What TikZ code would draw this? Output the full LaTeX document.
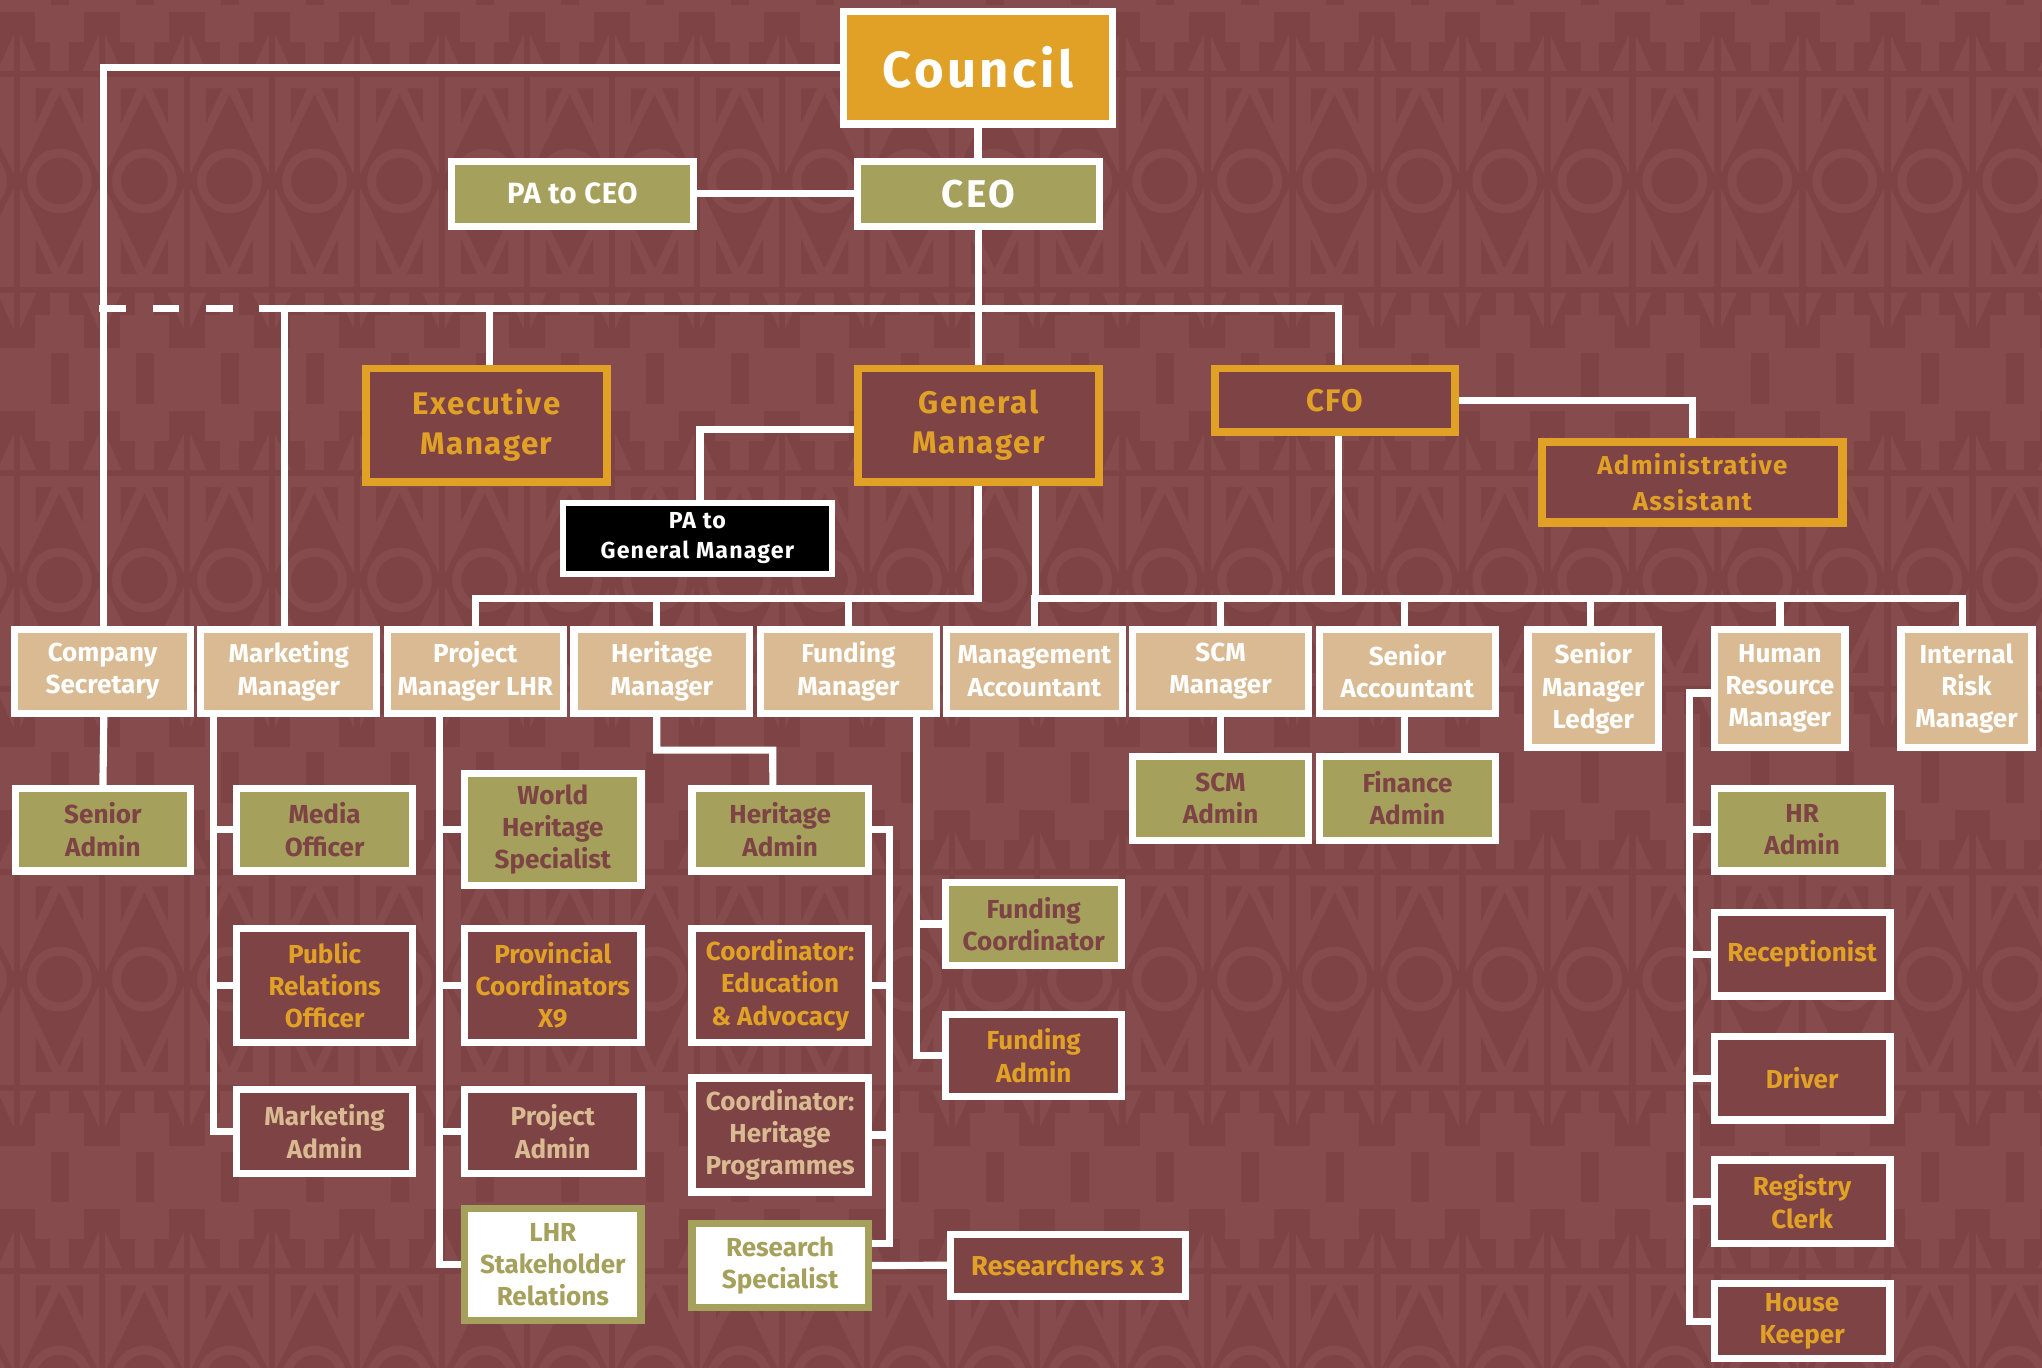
\documentclass[tikz,border=0pt]{standalone}
\usepackage{fontspec}
\setmainfont{Fira Sans}
\usetikzlibrary{calc}
\definecolor{bgL}{HTML}{864C4D}
\definecolor{bgD}{HTML}{7D4345}
\definecolor{mar}{HTML}{7D4345}
\definecolor{orng}{HTML}{E1A127}
\definecolor{olv}{HTML}{A5A05B}
\definecolor{tanc}{HTML}{D9BA92}
\pgfdeclarelayer{pat}\pgfdeclarelayer{lines}\pgfsetlayers{pat,lines,main}
\newcommand\fT{\fontsize{20}{24.8}\selectfont}
\newcommand\fTop{\fontsize{24}{30.7}\selectfont\addfontfeature{LetterSpace=5}}
\newcommand\fAdm{\fontsize{19.9}{27.4}\selectfont\addfontfeature{LetterSpace=5}}
\newcommand\fPag{\fontsize{17.8}{23}\selectfont\addfontfeature{LetterSpace=5}}
\newcommand\fCou{\fontsize{39}{40}\selectfont\addfontfeature{LetterSpace=7}}
\newcommand\fCeo{\fontsize{29.7}{32}\selectfont\addfontfeature{LetterSpace=6}}
\newcommand\fPce{\fontsize{22.5}{24}\selectfont\addfontfeature{LetterSpace=2}}
\newcommand\fRes{\fontsize{21}{24}\selectfont}
\newcommand\bx[8][5.5]{\node[#3,line width=#1pt,minimum width={(#6-#4-#1)*1pt},minimum height={(#7-#5-#1)*1pt}] (#2) at ({(#4+#6)/2},{(#5+#7)/2}) {#8};}
\newcommand\tileshapes{%
 \fill[bgL] (13.6,-130) rectangle (51.7,-107);
 \fill[bgL] (25.6,-107.5) rectangle (39.7,-84.5);
 \fill[bgL] (-15,-84.5) -- (0,-118) -- (15,-84.5) -- cycle;
 \fill[bgL] (25.6,85.7) rectangle (39.7,103.5);
 \fill[bgL] (13.6,103) rectangle (51.7,128.5);
 \fill[bgL] (-15,85.7) -- (0,119) -- (15,85.7) -- cycle;
 \fill[bgD] (-2.6,-130) rectangle (2.6,128.5);
 \fill[bgD] (32.64,-66.5) -- (65.28,0) -- (32.64,67) -- (0,0) -- cycle;
 \fill[bgL] (32.64,0) circle (24.8);
 \fill[bgD] (32.64,0) circle (17.9);
 \fill[bgD] (14.6,-71.2) -- (26.9,-71.2) -- (14.6,-44.3) -- cycle;
 \fill[bgD] (50.68,-71.2) -- (38.38,-71.2) -- (50.68,-44.3) -- cycle;
 \fill[bgD] (14.6,71.2) -- (26.9,71.2) -- (14.6,44.3) -- cycle;
 \fill[bgD] (50.68,71.2) -- (38.38,71.2) -- (50.68,44.3) -- cycle;
 \fill[bgD] (26,132.4) rectangle (40,171.4);
}
\begin{document}
\begin{tikzpicture}[x=1pt,y=-1pt,
  base/.style={rectangle,inner sep=0pt,outer sep=0pt,align=center,font=\bfseries\fT},
  tier/.style={base,fill=tanc,draw=white,text=white},
  obox/.style={base,fill=olv,draw=white,text=mar},
  gbox/.style={base,fill=olv,draw=white,text=white},
  marO/.style={base,fill=mar,draw=white,text=orng},
  marT/.style={base,fill=mar,draw=white,text=tanc},
  wbox/.style={base,fill=white,draw=olv,text=olv},
  topbox/.style={base,fill=mar,draw=orng,text=orng,font=\bfseries\fTop},
  cbox/.style={base,fill=orng,draw=white,text=white,font=\bfseries\fCou},
  blk/.style={base,fill=black,draw=white,text=white,font=\bfseries\fPag},
  conn/.style={draw=white,line width=5.5pt}]
\useasboundingbox (0,0) rectangle (1568,1050);
\begin{pgfonlayer}{pat}
\begin{scope}
\clip (-3,-3) rectangle (1571,1053);
\fill[bgL] (-3,-3) rectangle (1571,1053);
\foreach \j in {-1,...,3}{
  \begin{scope}[shift={(0,{139+306.4*\j})}]
    \fill[bgD] (-3,-130) rectangle (1571,-80);
    \fill[bgD] (-3,81) rectangle (1571,128.5);
    \foreach \i in {-1,...,24}{
      \begin{scope}[shift={({13+65.28*\i},0)}]
        \tileshapes
      \end{scope}
    }
  \end{scope}
}
\end{scope}
\end{pgfonlayer}
% top
\bx{council}{cbox}{645}{6}{857}{98}{Council}
\bx{pceo}{gbox,font=\bfseries\fPce}{344}{121}{535}{176.5}{PA to CEO}
\bx{ceo}{gbox,font=\bfseries\fCeo}{656}{121}{847}{176.5}{CEO}
\bx[6]{exec}{topbox}{278}{280}{469}{373}{Executive\\Manager}
\bx[6]{gm}{topbox}{656}{280}{847}{373}{General\\Manager}
\bx[6]{cfo}{topbox}{930}{280}{1120}{335}{CFO}
\bx[6.5]{admin}{topbox,font=\bfseries\fAdm}{1181}{336}{1418}{404.5}{Administrative\\Assistant}
\bx[4.5]{pagm}{blk}{430}{384}{641}{443}{PA to\\General Manager}
% tier
\bx{csec}{tier}{8.5}{480.4}{149}{550.5}{Company\\Secretary}
\bx{mkt}{tier}{151.5}{480.4}{292}{550.5}{Marketing\\Manager}
\bx{proj}{tier}{294.5}{480.4}{435.5}{550.5}{Project\\Manager LHR}
\bx{her}{tier}{438}{480.4}{578.5}{550.5}{Heritage\\Manager}
\bx{fund}{tier}{581}{480.4}{722}{550.5}{Funding\\Manager}
\bx{mgmt}{tier}{724}{480.4}{864.5}{550.5}{Management\\Accountant}
\bx{scm}{tier}{867}{480.4}{1007.5}{550.5}{SCM\\Manager}
\bx{sacc}{tier}{1010.5}{480.4}{1151}{550.5}{Senior\\Accountant}
\bx{ledg}{tier}{1170.5}{480.4}{1276.5}{577}{Senior\\Manager\\Ledger}
\bx{hr}{tier}{1314}{480.4}{1419.5}{577}{Human\\Resource\\Manager}
\bx{risk}{tier}{1457}{480.4}{1563}{577}{Internal\\Risk\\Manager}
% second level
\bx{sadm}{obox}{9}{602.6}{149}{671.5}{Senior\\Admin}
\bx{media}{obox}{179}{602.6}{319.5}{671.5}{Media\\Officer}
\bx{pro}{marO}{179}{710}{319.5}{803}{Public\\Relations\\Officer}
\bx{madm}{marT}{179}{834}{319.5}{904}{Marketing\\Admin}
\bx{whs}{obox}{354}{591}{495}{683}{World\\Heritage\\Specialist}
\bx{prov}{marO}{354}{710}{495}{803}{Provincial\\Coordinators\\X9}
\bx{padm}{marT}{354}{834}{495}{904}{Project\\Admin}
\bx{lhr}{wbox}{354}{925}{495}{1017}{LHR\\Stakeholder\\Relations}
\bx{hadm}{obox}{528.6}{602.6}{669.5}{671.5}{Heritage\\Admin}
\bx{cea}{marO}{528.6}{710}{669.5}{803}{Coordinator:\\Education\\\& Advocacy}
\bx{chp}{marT}{528.6}{825}{669.5}{918}{Coordinator:\\Heritage\\Programmes}
\bx{rs}{wbox}{528.6}{937}{669.5}{1006.6}{Research\\Specialist}
\bx{rx}{marO,font=\bfseries\fRes}{727}{945}{913}{998}{Researchers x 3}
\bx{fco}{obox}{723.5}{675}{864}{744}{Funding\\Coordinator}
\bx{fadm}{marO}{723.5}{776}{864}{845}{Funding\\Admin}
\bx{scma}{obox}{867}{578}{1007.5}{648}{SCM\\Admin}
\bx{fina}{obox}{1010.5}{578}{1151}{648}{Finance\\Admin}
\bx{hradm}{obox}{1313.6}{602.6}{1454}{671.5}{HR\\Admin}
\bx{recp}{marO}{1313.6}{698}{1454}{767.5}{Receptionist}
\bx{drv}{marO}{1313.6}{793}{1454}{862.7}{Driver}
\bx{reg}{marO}{1313.6}{888}{1454}{957.6}{Registry\\Clerk}
\bx{hk}{marO}{1313.6}{983}{1454}{1046}{House\\Keeper}
% connectors
\begin{pgfonlayer}{lines}
\coordinate (busL) at (199,237);
\coordinate (lb) at (751,459.8);
\coordinate (rb) at (795,459.8);
\draw[conn] (council.south) -- (council.south |- ceo.north);
\draw[conn] (pceo) -- (ceo);
\draw[conn] (council.west) -| ($(csec.north)+(1,0)$);
\draw[conn,dash pattern=on 20.5pt off 20.5pt] (76.3,237) -- (busL);
\draw[conn] (busL) -| ($(cfo.north)+(3,0)$);
\draw[conn] ($(mkt.north)+(-3,0)$) |- (busL);
\draw[conn] ($(exec.north)+(2.5,0)$) |- (busL);
\draw[conn] (ceo.south) -- (ceo.south |- gm.north);
\draw[conn] (cfo.east) -| (admin.north);
\draw[conn] ($(gm.west)+(0,3)$) -| ($(pagm.north)+(2,0)$);
\draw[conn] (lb |- gm.south) -- (lb) -| (proj.north);
\draw[conn] ($(her.north)+(-4,0)$) |- (lb);
\draw[conn] (fund.north) |- (lb);
\draw[conn] (rb |- gm.south) -- (rb) -| ($(risk.north)+(-3,0)$);
\draw[conn] (mgmt.north) |- (rb);
\draw[conn] (scm.north) |- (rb);
\draw[conn] ($(sacc.north)+(-2.5,0)$) |- (rb);
\draw[conn] ($(ledg.north)+(-2.3,0)$) |- (rb);
\draw[conn] (hr.north) |- (rb);
\draw[conn] ($(cfo.south)+(3,0)$) |- (rb);
% second level
\draw[conn] ($(csec.south)+(1,0)$) -- ($(sadm.north)+(0,0)$);
\draw[conn] (mkt.south -| 163.7,0) |- (madm.west);
\draw[conn] (media.west) -- (media.west -| 163.7,0);
\draw[conn] (pro.west) -- (pro.west -| 163.7,0);
\draw[conn] (proj.south -| 337.5,0) |- (lhr.west);
\draw[conn] (whs.west) -- (whs.west -| 337.5,0);
\draw[conn] (prov.west) -- (prov.west -| 337.5,0);
\draw[conn] (padm.west) -- (padm.west -| 337.5,0);
\draw[conn] ($(her.south)+(-4,0)$) |- (593.4,576) -- ($(hadm.north)+(-5.6,0)$);
\draw[conn] (hadm.east) -| (683,955) -- (rs.east |- 683,955);
\draw[conn] (cea.east) -- (cea.east -| 683,0);
\draw[conn] (chp.east) -- (chp.east -| 683,0);
\draw[conn] (rs.east) -- (rx.west);
\draw[conn] (fund.south -| 704,0) |- (fadm.west);
\draw[conn] (fco.west) -- (fco.west -| 704,0);
\draw[conn] (scm.south) -- (scm.south |- scma.north);
\draw[conn] ($(sacc.south)+(-2.5,0)$) -- ($(fina.north)+(-2.5,0)$);
\draw[conn] ($(hr.west)+(0,3.4)$) -| (hk.west -| 1297,0) -- (hk.west);
\draw[conn] (hradm.west) -- (hradm.west -| 1297,0);
\draw[conn] (recp.west) -- (recp.west -| 1297,0);
\draw[conn] (drv.west) -- (drv.west -| 1297,0);
\draw[conn] (reg.west) -- (reg.west -| 1297,0);
\end{pgfonlayer}
\end{tikzpicture}
\end{document}
